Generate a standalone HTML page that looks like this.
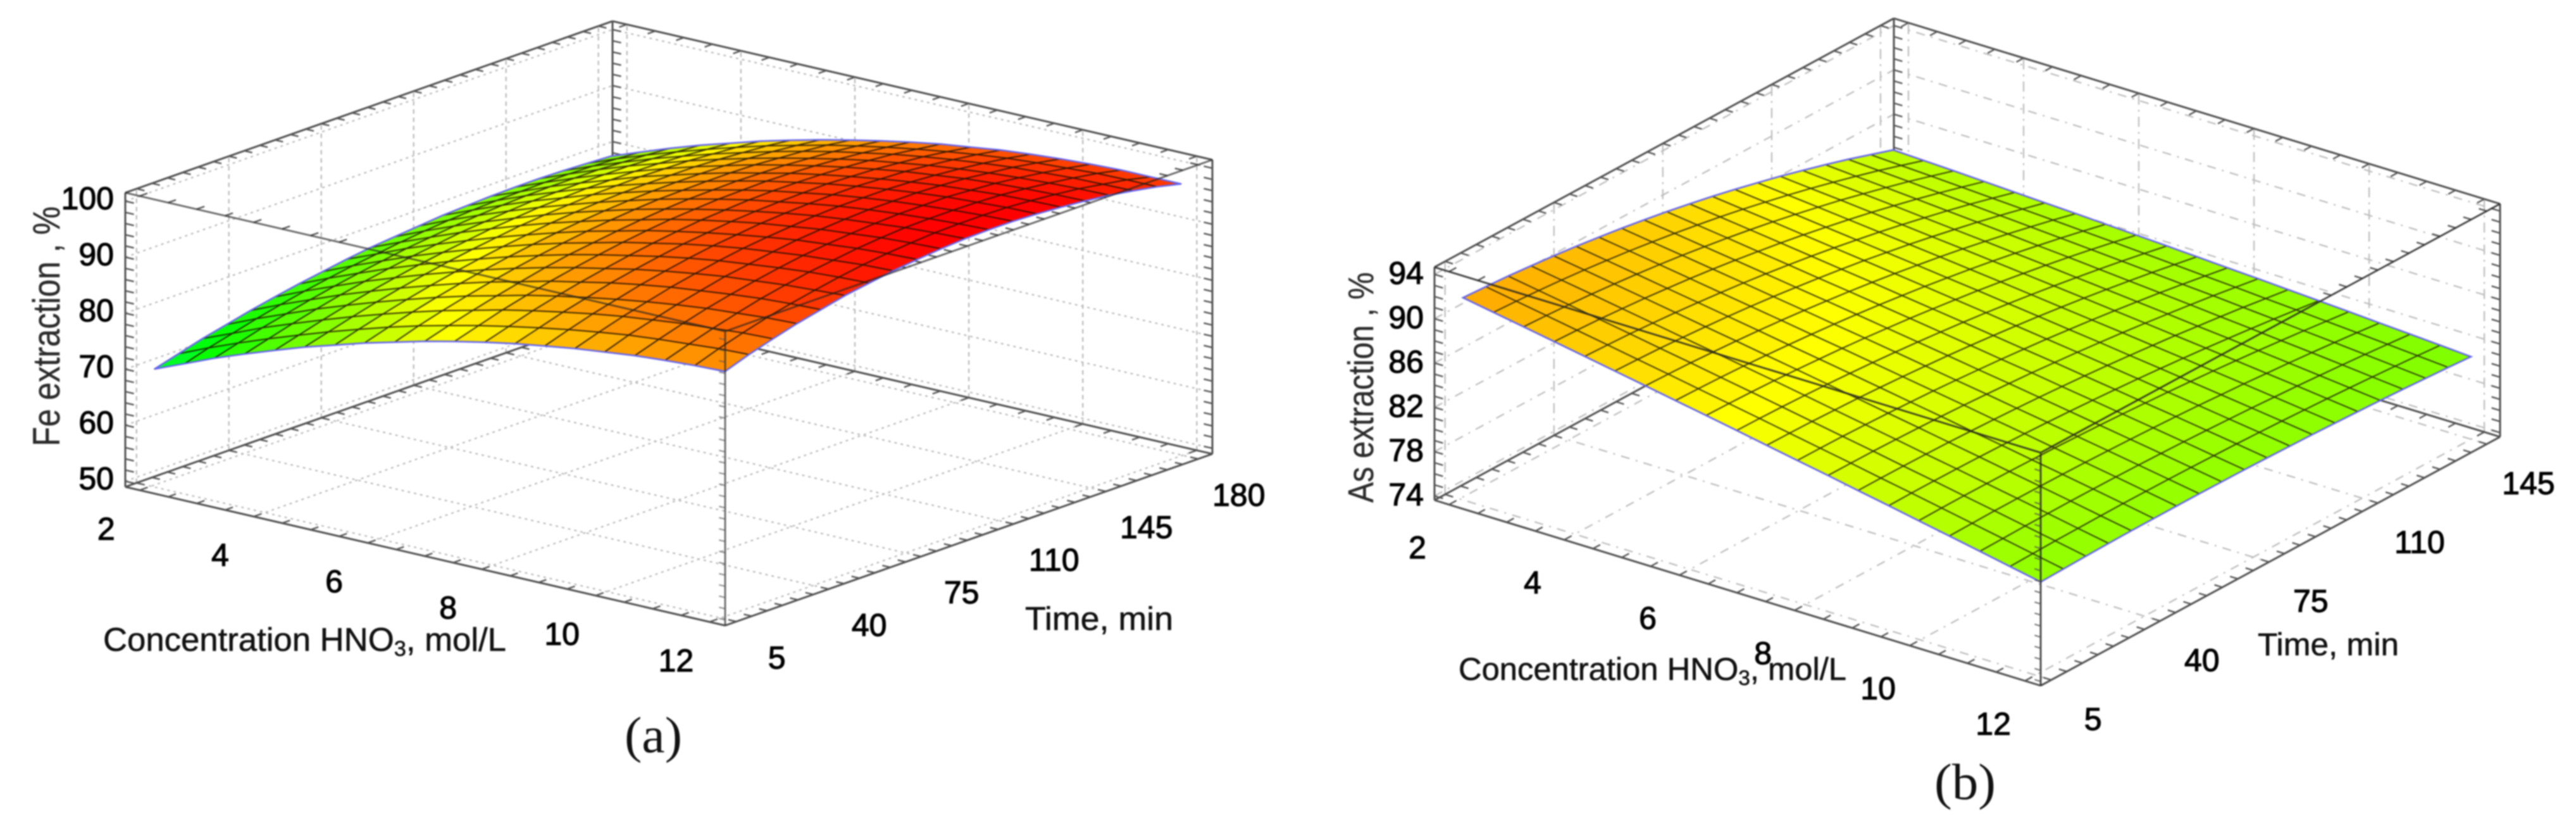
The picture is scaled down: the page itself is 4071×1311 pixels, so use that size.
<!DOCTYPE html>
<html lang="en">
<head>
<meta charset="utf-8">
<title>Fe and As extraction response surfaces</title>
<style>
html,body{margin:0;padding:0;background:#fff;width:4071px;height:1311px;overflow:hidden}
svg{display:block;filter:blur(1px)}
text{font-family:"Liberation Sans",sans-serif}
.tick{font-size:50px;fill:#000;stroke:#000;stroke-width:1.2px}
.title{fill:#111;stroke:#111;stroke-width:.6px}
.ytitle{fill:#2b2b2b;stroke:#2b2b2b;stroke-width:.4px}
.cap{font-family:"Liberation Serif",serif;font-size:80px;fill:#111}
</style>
</head>
<body>
<svg id="figure" xmlns="http://www.w3.org/2000/svg" width="4071" height="1311" viewBox="0 0 4071 1311">
  <g id="panel-a"></g>
  <g id="panel-b"></g>

  <text class="ytitle" transform="translate(94,705) rotate(-90)" font-size="60" textLength="379" lengthAdjust="spacingAndGlyphs">Fe extraction , %</text>
  <text class="title" x="163" y="1028" font-size="52" textLength="637" lengthAdjust="spacingAndGlyphs">Concentration HNO<tspan font-size="34" dy="8">3</tspan><tspan dy="-8">, mol/L</tspan></text>
  <text class="title" x="1620" y="995" font-size="52" textLength="234" lengthAdjust="spacingAndGlyphs">Time, min</text>
  <text class="cap" x="987" y="1188" textLength="91" lengthAdjust="spacingAndGlyphs">(a)</text>

  <text class="ytitle" transform="translate(2170,794) rotate(-90)" font-size="57" textLength="364" lengthAdjust="spacingAndGlyphs">As extraction , %</text>
  <text class="title" x="2305" y="1074" font-size="50" textLength="613" lengthAdjust="spacingAndGlyphs">Concentration HNO<tspan font-size="33" dy="8">3</tspan><tspan dy="-8">, mol/L</tspan></text>
  <text class="title" x="3568" y="1035" font-size="50" textLength="223" lengthAdjust="spacingAndGlyphs">Time, min</text>
  <text class="cap" x="3057" y="1262" textLength="97" lengthAdjust="spacingAndGlyphs">(b)</text>
</svg>

<script>
// ---- shared axis data ----
const concTicks = [2, 4, 6, 8, 10, 12];
const concLevels = [2,2.53,3.05,3.58,4.11,4.63,5.16,5.68,6.21,6.74,7.26,7.79,8.32,8.84,9.37,9.89,10.42,10.95,11.47,12];

// ---- panel (a) Fe extraction ----
const feTimeTicks = [5, 40, 75, 110, 145, 180];
const feZTicks = [50, 60, 70, 80, 90, 100];
const feTimeLevels = [5,14.2,23.4,32.6,41.8,51.1,60.3,69.5,78.7,87.9,97.1,106.3,115.5,124.7,133.9,143.2,152.4,161.6,170.8,180];
// rows: time level, columns: concentration level
const feExtraction = [
[68.2,70.4,72.6,74.6,76.5,78.3,79.9,81.5,82.9,84.3,85.5,86.6,87.6,88.4,89.2,89.8,90.4,90.8,91.1,91.3],
[69.4,71.7,73.8,75.8,77.7,79.5,81.2,82.8,84.3,85.6,86.8,87.9,88.9,89.8,90.6,91.3,91.8,92.2,92.6,92.8],
[70.6,72.8,75.0,77.0,78.9,80.7,82.4,84.0,85.5,86.8,88.1,89.2,90.2,91.1,91.9,92.5,93.1,93.5,93.9,94.1],
[71.6,73.9,76.0,78.1,80.0,81.8,83.5,85.1,86.6,87.9,89.2,90.3,91.3,92.2,93.0,93.7,94.3,94.7,95.1,95.3],
[72.6,74.9,77.0,79.1,81.0,82.8,84.5,86.1,87.6,88.9,90.2,91.3,92.4,93.3,94.1,94.7,95.3,95.8,96.1,96.3],
[73.5,75.8,77.9,80.0,81.9,83.7,85.4,87.0,88.5,89.9,91.1,92.2,93.3,94.2,95.0,95.7,96.2,96.7,97.0,97.3],
[74.3,76.6,78.7,80.8,82.7,84.5,86.2,87.8,89.3,90.7,91.9,93.0,94.1,95.0,95.8,96.4,97.0,97.5,97.8,98.0],
[75.0,77.3,79.4,81.5,83.4,85.2,86.9,88.5,90.0,91.3,92.6,93.7,94.8,95.7,96.5,97.1,97.7,98.1,98.5,98.7],
[75.7,77.9,80.1,82.1,84.0,85.8,87.5,89.1,90.6,91.9,93.2,94.3,95.3,96.2,97.0,97.7,98.2,98.7,99.0,99.2],
[76.3,78.5,80.6,82.7,84.6,86.4,88.1,89.6,91.1,92.4,93.7,94.8,95.8,96.7,97.4,98.1,98.6,99.1,99.4,99.6],
[76.7,79.0,81.1,83.1,85.0,86.8,88.5,90.0,91.5,92.8,94.0,95.1,96.1,97.0,97.8,98.4,98.9,99.4,99.7,99.9],
[77.1,79.4,81.5,83.5,85.4,87.1,88.8,90.3,91.8,93.1,94.3,95.4,96.3,97.2,98.0,98.6,99.1,99.5,99.8,100.0],
[77.5,79.7,81.8,83.8,85.6,87.4,89.0,90.5,91.9,93.2,94.4,95.5,96.4,97.3,98.0,98.6,99.1,99.5,99.8,100.0],
[77.7,79.9,82.0,83.9,85.8,87.5,89.1,90.6,92.0,93.3,94.5,95.5,96.5,97.3,98.0,98.6,99.1,99.4,99.7,99.8],
[77.9,80.0,82.1,84.0,85.8,87.6,89.1,90.6,92.0,93.2,94.4,95.4,96.3,97.1,97.8,98.4,98.8,99.2,99.4,99.5],
[78.0,80.1,82.1,84.0,85.8,87.5,89.1,90.5,91.9,93.1,94.2,95.2,96.1,96.9,97.5,98.1,98.5,98.8,99.0,99.1],
[78.0,80.1,82.1,84.0,85.7,87.4,88.9,90.3,91.6,92.8,93.9,94.9,95.7,96.5,97.1,97.6,98.0,98.3,98.5,98.6],
[77.9,80.0,81.9,83.8,85.5,87.1,88.6,90.0,91.3,92.5,93.5,94.5,95.3,96.0,96.6,97.1,97.4,97.7,97.8,97.9],
[77.7,79.8,81.7,83.5,85.2,86.8,88.3,89.6,90.9,92.0,93.0,93.9,94.7,95.4,96.0,96.4,96.7,97.0,97.1,97.1],
[77.5,79.5,81.4,83.2,84.8,86.4,87.8,89.1,90.3,91.4,92.4,93.3,94.0,94.7,95.2,95.6,95.9,96.1,96.1,96.1]
];

// ---- panel (b) As extraction ----
const asTimeTicks = [5, 40, 75, 110, 145];
const asZTicks = [74, 78, 82, 86, 90, 94];
const asTimeLevels = [5,12.4,19.7,27.1,34.5,41.8,49.2,56.6,63.9,71.3,78.7,86.1,93.4,100.8,108.2,115.5,122.9,130.3,137.6,145];
// rows: time level, columns: concentration level
const asExtraction = [
[90.5,90.02,89.55,89.06,88.57,88.08,87.59,87.09,86.59,86.08,85.57,85.05,84.54,84.01,83.49,82.96,82.43,81.89,81.35,80.8],
[90.38,89.91,89.45,88.97,88.49,88.01,87.53,87.04,86.55,86.05,85.55,85.04,84.54,84.02,83.51,82.99,82.46,81.93,81.4,80.86],
[90.24,89.78,89.33,88.86,88.39,87.92,87.45,86.97,86.49,86.0,85.51,85.01,84.52,84.01,83.51,83.0,82.49,81.96,81.45,80.92],
[90.05,89.61,89.17,88.71,88.25,87.79,87.33,86.87,86.4,85.92,85.44,84.95,84.47,83.97,83.49,82.99,82.49,81.98,81.47,80.96],
[89.84,89.41,88.98,88.54,88.09,87.64,87.2,86.74,86.29,85.82,85.36,84.88,84.41,83.93,83.45,82.97,82.48,81.99,81.49,80.99],
[89.6,89.18,88.76,88.33,87.9,87.47,87.04,86.59,86.15,85.7,85.25,84.79,84.34,83.86,83.4,82.93,82.46,81.98,81.5,81.0],
[89.32,88.92,88.52,88.1,87.68,87.27,86.85,86.42,86.0,85.56,85.12,84.68,84.24,83.78,83.34,82.88,82.42,81.96,81.49,81.01],
[89.01,88.62,88.24,87.84,87.44,87.04,86.64,86.23,85.82,85.4,84.97,84.54,84.12,83.68,83.25,82.81,82.37,81.92,81.47,81.01],
[88.67,88.3,87.93,87.55,87.17,86.78,86.4,86.01,85.61,85.21,84.81,84.39,83.99,83.57,83.15,82.73,82.3,81.87,81.44,80.99],
[88.3,87.94,87.6,87.23,86.87,86.5,86.14,85.76,85.39,85.0,84.62,84.22,83.84,83.43,83.03,82.63,82.22,81.81,81.39,80.97],
[87.89,87.56,87.23,86.89,86.54,86.19,85.85,85.49,85.13,84.77,84.4,84.03,83.66,83.28,82.9,82.51,82.13,81.73,81.34,80.93],
[87.46,87.14,86.84,86.51,86.18,85.86,85.53,85.2,84.86,84.52,84.17,83.82,83.47,83.11,82.75,82.38,82.02,81.64,81.27,80.88],
[86.99,86.69,86.41,86.1,85.8,85.5,85.19,84.88,84.57,84.24,83.92,83.58,83.26,82.92,82.58,82.24,81.89,81.54,81.19,80.82],
[86.48,86.21,85.95,85.67,85.39,85.11,84.83,84.54,84.25,83.94,83.64,83.33,83.03,82.71,82.4,82.08,81.76,81.42,81.09,80.75],
[85.95,85.7,85.47,85.21,84.95,84.69,84.44,84.17,83.9,83.62,83.35,83.06,82.78,82.49,82.2,81.9,81.6,81.3,80.99,80.67],
[85.38,85.16,84.95,84.72,84.48,84.25,84.02,83.78,83.54,83.28,83.03,82.77,82.51,82.24,81.98,81.71,81.44,81.15,80.87,80.58],
[84.79,84.59,84.4,84.2,83.99,83.79,83.58,83.36,83.15,82.92,82.69,82.46,82.23,81.98,81.75,81.5,81.26,81.0,80.74,80.48],
[84.16,83.99,83.83,83.65,83.47,83.29,83.11,82.92,82.73,82.53,82.33,82.12,81.93,81.71,81.5,81.28,81.06,80.83,80.6,80.36],
[83.49,83.35,83.22,83.07,82.92,82.77,82.62,82.46,82.3,82.13,81.95,81.77,81.6,81.41,81.23,81.04,80.85,80.65,80.45,80.24],
[82.8,82.69,82.59,82.47,82.34,82.22,82.1,81.97,81.84,81.7,81.55,81.4,81.26,81.1,80.95,80.79,80.62,80.45,80.28,80.1]
];

const SVGNS = 'http://www.w3.org/2000/svg';

function drawPanel(root, cfg) {
  const conc0 = concTicks[0];
  const concSpan = concTicks[concTicks.length - 1] - conc0;
  const t0 = cfg.timeTicks[0];
  const tSpan = cfg.timeTicks[cfg.timeTicks.length - 1] - t0;

  // axis functions
  const axisU = c => 0.024 + 0.95 * (c - conc0) / concSpan;
  const axisV = t => 0.023 + 0.948 * (t - t0) / tSpan;
  const surfU = c => cfg.surfU * (c - conc0) / concSpan;
  const surfV = t => cfg.surfV0 + (cfg.surfV1 - cfg.surfV0) * (t - t0) / tSpan;
  const px = (u, v) => cfg.O[0] + cfg.U[0] * u + cfg.V[0] * v;
  const py = (u, v, z) => cfg.O[1] + cfg.U[1] * u + cfg.V[1] * v - (z - cfg.zBase) * cfg.zk;
  const pt = (u, v, z) => [px(u, v), py(u, v, z)];

  const seg = (a, b) => 'M' + a[0].toFixed(1) + ' ' + a[1].toFixed(1) + 'L' + b[0].toFixed(1) + ' ' + b[1].toFixed(1);
  const unit = d => { const n = Math.hypot(d[0], d[1]); return [d[0] / n, d[1] / n]; };
  const along = (p, d, l) => [p[0] + d[0] * l, p[1] + d[1] * l];

  const zb = cfg.zBase, zt = cfg.zTop;

  // ---------- grid ----------
  let floorD = '', wallH = '', wallV = '';
  concTicks.forEach(c => {
    const u = axisU(c);
    floorD += seg(pt(u, 0, zb), pt(u, 1, zb));
    wallV += seg(pt(u, 1, zb), pt(u, 1, zt));
  });
  cfg.timeTicks.forEach(t => {
    const v = axisV(t);
    floorD += seg(pt(0, v, zb), pt(1, v, zb));
    wallV += seg(pt(0, v, zb), pt(0, v, zt));
  });
  cfg.zTicks.forEach(z => {
    wallH += seg(pt(0, 0, z), pt(0, 1, z)) + seg(pt(0, 1, z), pt(1, 1, z));
  });

  const floorGrid = document.createElementNS(SVGNS, 'path');
  
  
  floorGrid.setAttribute('d', floorD);
  floorGrid.setAttribute('fill', 'none');
  floorGrid.setAttribute('stroke', cfg.gridColor);
  floorGrid.setAttribute('stroke-width', '2.2');
  floorGrid.setAttribute('stroke-dasharray', cfg.dashH);
  root.appendChild(floorGrid);

  const wallHGrid = document.createElementNS(SVGNS, 'path');
  
  
  wallHGrid.setAttribute('d', wallH);
  wallHGrid.setAttribute('fill', 'none');
  wallHGrid.setAttribute('stroke', cfg.gridColor);
  wallHGrid.setAttribute('stroke-width', '2.2');
  wallHGrid.setAttribute('stroke-dasharray', cfg.dashH);
  root.appendChild(wallHGrid);

  const wallVGrid = document.createElementNS(SVGNS, 'path');
  
  
  wallVGrid.setAttribute('d', wallV);
  wallVGrid.setAttribute('fill', 'none');
  wallVGrid.setAttribute('stroke', cfg.gridColor);
  wallVGrid.setAttribute('stroke-width', '2.2');
  wallVGrid.setAttribute('stroke-dasharray', cfg.dashV);
  root.appendChild(wallVGrid);

  // ---------- back frame ----------
  const frameD =
    seg(pt(0, 0, zb), pt(1, 0, zb)) + seg(pt(1, 0, zb), pt(1, 1, zb)) +
    seg(pt(0, 0, zb), pt(0, 1, zb)) + seg(pt(0, 1, zb), pt(1, 1, zb)) +
    seg(pt(0, 0, zb), pt(0, 0, zt)) + seg(pt(1, 1, zb), pt(1, 1, zt)) +
    seg(pt(0, 1, zb), pt(0, 1, zt)) +
    seg(pt(0, 0, zt), pt(0, 1, zt)) + seg(pt(0, 1, zt), pt(1, 1, zt));
  const frame = document.createElementNS(SVGNS, 'path');
  
  
  frame.setAttribute('d', frameD);
  frame.setAttribute('fill', 'none');
  frame.setAttribute('stroke', '#505050');
  frame.setAttribute('stroke-width', '3');
  root.appendChild(frame);

  // ---------- minor ticks ----------
  const dU = unit(cfg.U), dV = unit(cfg.V);
  const neg = d => [-d[0], -d[1]];
  let tickD = '';
  const uStep = 0.95 / (concTicks.length - 1) / 4;
  const vStep = 0.948 / (cfg.timeTicks.length - 1) / cfg.timeMinor;
  for (let u = 0.024; u <= 1; u += uStep) {
    [zb, zt].forEach(z => {
      let p = pt(u, 0, z);
      tickD += seg(p, along(p, dV, 13));
      p = pt(u, 1, z);
      tickD += seg(p, along(p, neg(dV), 13));
    });
  }
  for (let v = 0.023; v <= 1; v += vStep) {
    [zb, zt].forEach(z => {
      let p = pt(1, v, z);
      tickD += seg(p, along(p, neg(dU), 13));
      p = pt(0, v, z);
      tickD += seg(p, along(p, dU, 13));
    });
  }
  for (let z = cfg.zTicks[0]; z <= zt; z += cfg.zMinor) {
    let p = pt(0, 0, z);
    tickD += seg(p, along(p, dU, 14));
    p = pt(0, 1, z);
    tickD += seg(p, along(p, dU, 14));
    p = pt(1, 1, z);
    tickD += seg(p, along(p, neg(dU), 14));
  }
  const ticks = document.createElementNS(SVGNS, 'path');
  
  
  ticks.setAttribute('d', tickD);
  ticks.setAttribute('fill', 'none');
  ticks.setAttribute('stroke', '#555');
  ticks.setAttribute('stroke-width', '2.4');
  root.appendChild(ticks);

  // ---------- surface (painter's order: far corner first) ----------
  const surface = document.createElementNS(SVGNS, 'g');
  
  
  root.appendChild(surface);

  const nt = cfg.timeLevels.length, nc = concLevels.length;
  const sp = (j, i) => pt(surfU(concLevels[i]), surfV(cfg.timeLevels[j]), cfg.grid[j][i]);
  for (let j = nt - 2; j >= 0; j--) {
    for (let i = 0; i < nc - 1; i++) {
      const corners = [sp(j, i), sp(j, i + 1), sp(j + 1, i + 1), sp(j + 1, i)];
      const mean = (cfg.grid[j][i] + cfg.grid[j][i + 1] + cfg.grid[j + 1][i + 1] + cfg.grid[j + 1][i]) / 4;
      const hue = Math.max(0, Math.min(140, cfg.hue(mean)));
      const cell = document.createElementNS(SVGNS, 'polygon');
      
      
      cell.setAttribute('points', corners.map(c => c[0].toFixed(1) + ',' + c[1].toFixed(1)).join(' '));
      cell.setAttribute('fill', 'hsl(' + hue.toFixed(1) + ',100%,50%)');
      cell.setAttribute('stroke', cfg.meshColor);
      cell.setAttribute('stroke-width', '2');
      cell.setAttribute('stroke-linejoin', 'round');
      surface.appendChild(cell);
    }
  }

  // blue outline of the surface
  const perimeter = [];
  for (let i = 0; i < nc; i++) perimeter.push(sp(0, i));
  for (let j = 1; j < nt; j++) perimeter.push(sp(j, nc - 1));
  for (let i = nc - 2; i >= 0; i--) perimeter.push(sp(nt - 1, i));
  for (let j = nt - 2; j > 0; j--) perimeter.push(sp(j, 0));
  const outline = document.createElementNS(SVGNS, 'polygon');
  
  
  outline.setAttribute('points', perimeter.map(c => c[0].toFixed(1) + ',' + c[1].toFixed(1)).join(' '));
  outline.setAttribute('fill', 'none');
  outline.setAttribute('stroke', '#6464f0');
  outline.setAttribute('stroke-width', '2.6');
  root.appendChild(outline);

  // ---------- front box edges, drawn over the surface ----------
  const frontD =
    seg(pt(1, 0, zb), pt(1, 0, zt)) +
    seg(pt(0, 0, zt), pt(1, 0, zt)) +
    seg(pt(1, 0, zt), pt(1, 1, zt));
  const front = document.createElementNS(SVGNS, 'path');
  
  
  front.setAttribute('d', frontD);
  front.setAttribute('fill', 'none');
  front.setAttribute('stroke', '#222');
  front.setAttribute('stroke-width', '2.8');
  front.setAttribute('stroke-opacity', cfg.frontOpacity);
  root.appendChild(front);

  let frontTickD = '';
  for (let z = cfg.zTicks[0]; z <= zt; z += cfg.zMinor) {
    const p = pt(1, 0, z);
    frontTickD += seg(p, along(p, neg(dU), 10));
  }
  const frontTicks = document.createElementNS(SVGNS, 'path');
  
  
  frontTicks.setAttribute('d', frontTickD);
  frontTicks.setAttribute('fill', 'none');
  frontTicks.setAttribute('stroke', '#555');
  frontTicks.setAttribute('stroke-width', '2');
  frontTicks.setAttribute('stroke-opacity', cfg.frontOpacity);
  root.appendChild(frontTicks);

  // ---------- tick labels ----------
  concTicks.forEach(c => {
    const p = pt(axisU(c), 0, zb);
    const label = document.createElementNS(SVGNS, 'text');
    
    
    label.setAttribute('class', 'tick');
    label.setAttribute('text-anchor', 'middle');
    label.setAttribute('x', (p[0] + cfg.concOff[0]).toFixed(1));
    label.setAttribute('y', (p[1] + cfg.concOff[1] + 18).toFixed(1));
    label.textContent = String(c);
    root.appendChild(label);
  });
  cfg.timeTicks.forEach(t => {
    const p = pt(1, axisV(t), zb);
    const label = document.createElementNS(SVGNS, 'text');
    
    
    label.setAttribute('class', 'tick');
    label.setAttribute('text-anchor', 'middle');
    label.setAttribute('x', (p[0] + cfg.timeOff[0]).toFixed(1));
    label.setAttribute('y', (p[1] + cfg.timeOff[1] + 18).toFixed(1));
    label.textContent = String(t);
    root.appendChild(label);
  });
  cfg.zTicks.forEach(z => {
    const p = pt(0, 0, z);
    const label = document.createElementNS(SVGNS, 'text');
    
    
    label.setAttribute('class', 'tick');
    label.setAttribute('text-anchor', 'end');
    label.setAttribute('x', cfg.zLabelX);
    label.setAttribute('y', (p[1] + cfg.zLabelOff + 18).toFixed(1));
    label.textContent = String(z);
    root.appendChild(label);
  });
}

drawPanel(document.getElementById('panel-a'), {
  O: [198, 769], U: [948, 219], V: [770, -271],
  zBase: 49, zTop: 101.5, zk: 8.85,
  surfU: 0.951, surfV0: 0.06, surfV1: 0.996,
  timeTicks: feTimeTicks, zTicks: feZTicks, timeLevels: feTimeLevels, grid: feExtraction,
  timeMinor: 6, zMinor: 2,
  hue: z => 60 - 4.3 * (z - 85.7),
  gridColor: '#b9b9b9', dashH: '4 6', dashV: '7 6',
  meshColor: 'rgba(25,15,0,.72)', frontOpacity: 0.68,
  concOff: [-53, 60], timeOff: [64, 56], zLabelX: 180, zLabelOff: -5
});

drawPanel(document.getElementById('panel-b'), {
  O: [2267, 790], U: [958, 293], V: [726, -393],
  zBase: 73.62, zTop: 94.65, zk: 17.5,
  surfU: 0.953, surfV0: 0.062, surfV1: 0.9986,
  timeTicks: asTimeTicks, zTicks: asZTicks, timeLevels: asTimeLevels, grid: asExtraction,
  timeMinor: 7, zMinor: 1,
  hue: z => 60 + (86.3 - z) * 4.9,
  gridColor: '#bcbcbc', dashH: '14 10 3 10', dashV: '16 8 3 8',
  meshColor: 'rgba(30,30,0,.72)', frontOpacity: 0.85,
  concOff: [-50, 67], timeOff: [66, 61], zLabelX: 2250, zLabelOff: -3
});
</script>
</body>
</html>
